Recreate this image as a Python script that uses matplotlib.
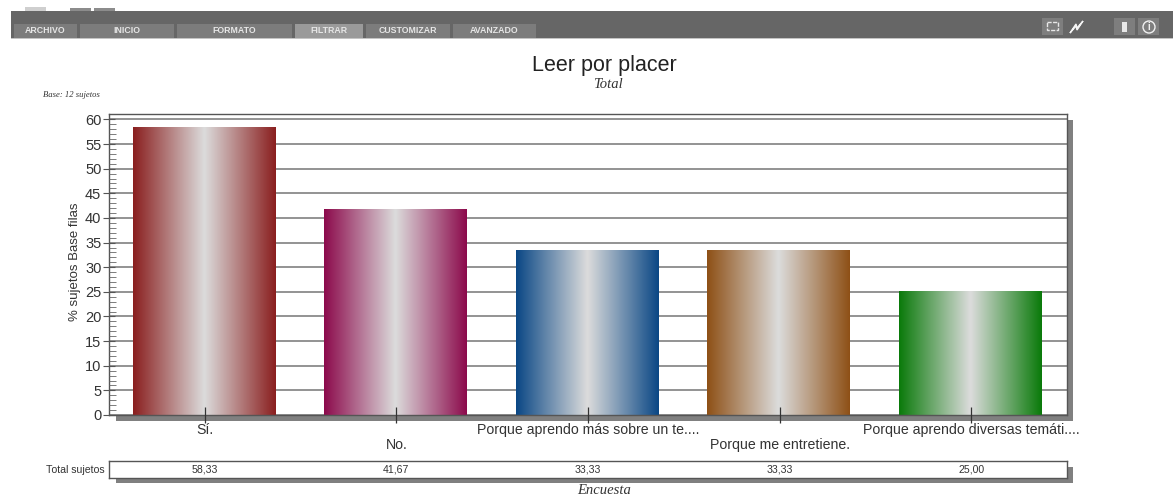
import numpy as np
import matplotlib
matplotlib.use("Agg")
import matplotlib.pyplot as plt
from matplotlib.colors import LinearSegmentedColormap
from matplotlib.patches import Rectangle

plt.rcParams['font.family'] = ['Liberation Sans', 'DejaVu Sans']

# chart data
categories = ["Sí.", "No.", "Porque aprendo más sobre un te....", "Porque me entretiene.",
              "Porque aprendo diversas temáti...."]
values = [58.33, 41.67, 33.33, 33.33, 25.00]
bar_colors = ["#8a1f1f", "#8c0a4c", "#0a4785", "#8e5016", "#0a7a0a"]
y_ticks = list(range(0, 65, 5))
tab_names = ["ARCHIVO", "INICIO", "FORMATO", "FILTRAR", "CUSTOMIZAR", "AVANZADO"]
tab_edges = [(14, 77), (80, 174), (177, 292), (295, 363), (366, 450), (453, 536)]

W, H = 1173, 495
fig = plt.figure(figsize=(W / 100, H / 100), dpi=100, facecolor="white")


def px_axes(left, top, right, bottom, **kw):
    # axes placed with reference pixel coordinates
    return fig.add_axes([left / W, 1 - bottom / H, (right - left) / W, (bottom - top) / H], **kw)


# background layer: toolbar, shadows, loose texts
bg = fig.add_axes([0, 0, 1, 1], zorder=0)
bg.set_xlim(0, W)
bg.set_ylim(H, 0)
bg.axis("off")

bg.add_patch(Rectangle((11, 11), W - 11, 27, fc="#666666", ec="none"))
bg.add_patch(Rectangle((11, 38), W - 11, 1, fc="#c4c4c4", ec="none"))
for (a, b), name in zip(tab_edges, tab_names):
    active = name == "FILTRAR"
    bg.add_patch(Rectangle((a, 24), b - a, 14, fc="#9a9a9a" if active else "#7c7c7c", ec="none"))
    bg.text((a + b) / 2, 30.5, name, color="#e6e6e6", fontsize=6.3, fontweight="bold",
            ha="center", va="center")
# small toolbar icons
bg.add_patch(Rectangle((25, 7), 21, 4, fc="#cfcfcf", ec="none"))
bg.add_patch(Rectangle((70, 8), 21, 3, fc="#8c8c8c", ec="none"))
bg.add_patch(Rectangle((94, 8), 21, 3, fc="#8c8c8c", ec="none"))
for a, b in [(1042, 1063), (1114, 1135), (1138, 1159)]:
    bg.add_patch(Rectangle((a, 18), b - a, 17, fc="#7e7e7e", ec="none"))
bg.add_patch(Rectangle((1047, 22), 11, 8, fill=False, ec="#e8e8e8", lw=1, ls=(0, (3, 1))))
bg.fill([1070, 1076, 1077, 1083, 1077, 1076], [33, 24, 28, 21, 30, 26], color="#f4f4f4")
bg.add_patch(Rectangle((1122, 22), 5, 10, fc="#e8e8e8", ec="none"))
bg.add_patch(plt.Circle((1149, 27), 6, fill=False, ec="#f0f0f0", lw=1))
bg.text(1149, 27, "i", color="#f0f0f0", fontsize=7, fontweight="bold", ha="center", va="center")

# drop shadows
bg.add_patch(Rectangle((116, 120), 957, 301, fc="#808080", ec="none"))
bg.add_patch(Rectangle((116, 467), 957, 16, fc="#808080", ec="none"))

bg.text(604.5, 66, "Leer por placer", fontsize=15.5, color="#222222", ha="center", va="center")
bg.text(608, 85, "Total", fontsize=10.5, family="Liberation Serif", style="italic",
        color="#333333", ha="center", va="center")
bg.text(43, 95, "Base: 12 sujetos", fontsize=6.2, family="Liberation Serif", style="italic",
        color="#333333", ha="left", va="center")
bg.text(604, 490, "Encuesta", fontsize=10.5, family="Liberation Serif", style="italic",
        color="#333333", ha="center", va="center")
bg.text(75, 262, "% sujetos Base filas", fontsize=9.5, color="#333333", rotation=90,
        ha="center", va="center")
bg.text(105, 470, "Total sujetos", fontsize=7.6, color="#333333", ha="right", va="center")

# main plot
ax = px_axes(109, 114, 1067, 415, zorder=1, facecolor="white")
x = np.arange(len(values))
ax.set_xlim(-0.5, len(values) - 0.5)
ax.set_ylim(0, 61.1)
ax.hlines(y_ticks, -0.5, len(values) - 0.5, color="#8a8a8a", lw=1.3, zorder=1)

bars = ax.bar(x - 0.006, values, width=0.742, color="none", zorder=2)
ramp = np.abs(np.linspace(-1, 1, 256)).reshape(1, -1)
for rect, c in zip(bars, bar_colors):
    cmap = LinearSegmentedColormap.from_list("bar", ["#dcdcdc", c])
    ax.imshow(ramp, cmap=cmap, aspect="auto", zorder=2, vmin=0, vmax=1, interpolation="bilinear",
              extent=(rect.get_x(), rect.get_x() + rect.get_width(), 0, rect.get_height()))
ax.set_xlim(-0.5, len(values) - 0.5)
ax.set_ylim(0, 61.1)

ax.set_axisbelow(False)
ax.set_yticks(y_ticks)
ax.set_yticks(np.arange(0, 61, 1), minor=True)
ax.tick_params(axis="y", which="major", direction="inout", length=9, width=0.8, color="#555555",
               labelsize=10.5, labelcolor="#333333", pad=1)
ax.tick_params(axis="y", which="minor", direction="in", length=5, width=0.6, color="#666666")
ax.set_xticks(x)
ax.set_xticklabels(categories)
ax.tick_params(axis="x", direction="inout", length=11, width=0.9, color="#333333",
               labelsize=10.2, labelcolor="#333333")
# labels alternate between two rows
for i, tick in enumerate(ax.xaxis.get_major_ticks()):
    tick.set_pad(0.5 if i % 2 == 0 else 11)
for s in ax.spines.values():
    s.set_color("#555555")
    s.set_linewidth(1)

# value strip under the chart
tb = px_axes(109, 461, 1067, 478, zorder=1, facecolor="white")
tb.set_xlim(-0.5, len(values) - 0.5)
tb.set_ylim(0, 1)
tb.set_xticks([])
tb.set_yticks([])
for s in tb.spines.values():
    s.set_color("#555555")
    s.set_linewidth(1)
for i, v in enumerate(values):
    tb.text(i, 0.5, f"{v:.2f}".replace(".", ","), fontsize=7.6, color="#333333",
            ha="center", va="center")

fig.savefig("out.png", dpi=100)
